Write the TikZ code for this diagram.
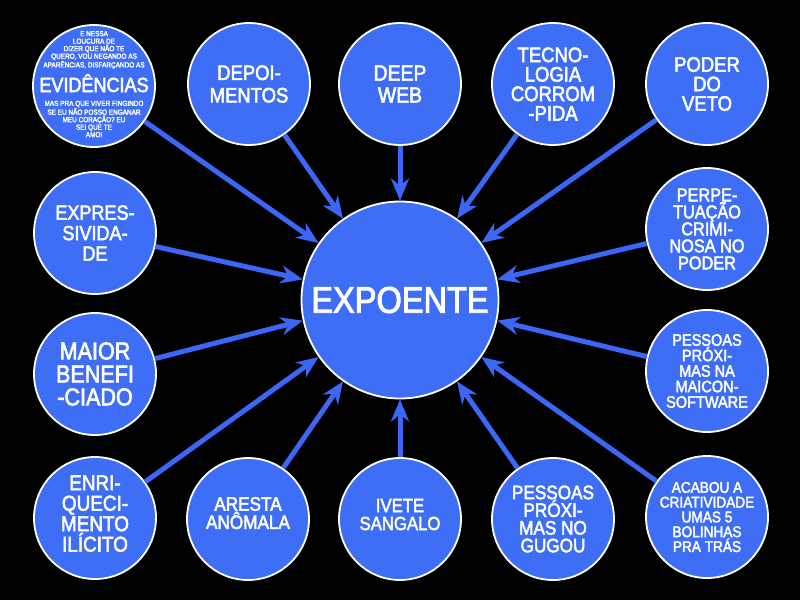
\documentclass[tikz,border=0pt]{standalone}
\usepackage{fontspec}
\setmainfont{Liberation Sans}[FakeStretch=0.88,FakeBold=2.5]
\usetikzlibrary{arrows.meta}
\definecolor{bub}{RGB}{62,110,245}
\definecolor{arr}{RGB}{60,102,245}
\newcommand{\fsz}[2]{\fontsize{#1}{#2}\selectfont}
\begin{document}
\begin{tikzpicture}[x=1pt,y=-1pt,
  bubble/.style={circle, fill=bub, draw=white, line width=1.8pt, minimum size=122pt, inner sep=0pt, text=white, align=center},
  hub/.style={bubble, minimum size=197pt},
  words/.style={text=white, align=center, inner sep=0pt},
  link/.style={draw=arr, line width=5pt, -{Stealth[length=22pt,width=18pt,inset=7pt]}}]
\fill[black] (0,0) rectangle (800,600);
\useasboundingbox (0,0) rectangle (800,600);

\node[hub, font=\fsz{37}{37}] (hub) at (400,300) {EXPOENTE};

\node[bubble] (evid) at (94,86) {};
\node[words, font=\fsz{7.3}{7.5}] (evida) at (94,50) {E NESSA\\LOUCURA DE\\DIZER QUE NÃO TE\\QUERO, VOU NEGANDO AS\\APARÊNCIAS, DISFARÇANDO AS};
\node[words, font=\fsz{20.5}{20}, anchor=base] (evidb) at (94,92) {EVIDÊNCIAS};
\node[words, font=\fsz{7.3}{7.5}] (evidc) at (94,119) {MAS PRA QUE VIVER FINGINDO\\SE EU NÃO POSSO ENGANAR\\MEU CORAÇÃO? EU\\SEI QUE TE\\AMO!};

\node[bubble, font=\fsz{21}{22.5}] (depo) at (249,84) {DEPOI-\\MENTOS};
\node[bubble, font=\fsz{22}{22}] (deep) at (400,84) {DEEP\\WEB};
\node[bubble, font=\fsz{21}{19.5}] (tecno) at (553,84) {TECNO-\\LOGIA\\CORROM\\-PIDA};
\node[bubble, font=\fsz{21}{19.5}] (veto) at (707,84) {PODER\\DO\\VETO};

\node[bubble, font=\fsz{20.5}{20.5}] (expr) at (95,233) {EXPRES-\\SIVIDA-\\DE};
\node[bubble, font=\fsz{18.5}{17}] (perp) at (707,229) {PERPE-\\TUAÇÃO\\CRIMI-\\NOSA NO\\PODER};

\node[bubble, font=\fsz{24.5}{23}] (maior) at (95,374) {MAIOR\\BENEFI\\-CIADO};
\node[bubble, font=\fsz{16.5}{15.5}] (maicon) at (707,371) {PESSOAS\\PRÓXI-\\MAS NA\\MAICON-\\SOFTWARE};

\node[bubble, font=\fsz{21.5}{20.5}, text depth=9pt] (enri) at (95,518) {ENRI-\\QUECI-\\MENTO\\ILÍCITO};
\node[bubble, font=\fsz{19.5}{17}, text depth=12pt] (aresta) at (248,519) {ARESTA\\ANÔMALA};
\node[bubble, font=\fsz{19}{18}, text depth=9pt] (ivete) at (400,519) {IVETE\\SANGALO};
\node[bubble, font=\fsz{19.5}{17.7}] (gugou) at (553,519) {PESSOAS\\PRÓXI-\\MAS NO\\GUGOU};
\node[bubble, font=\fsz{15.5}{14.8}] (acabou) at (707,517) {ACABOU A\\CRIATIVIDADE\\UMAS 5\\BOLINHAS\\PRA TRÁS};

\draw[link] (evid) -- (hub.145);
\draw[link] (depo) -- (hub.125);
\draw[link] (deep) -- (hub.90);
\draw[link] (tecno) -- (hub.55);
\draw[link] (veto) -- (hub.35);
\draw[link] (expr) -- (hub.168);
\draw[link] (perp) -- (hub.12);
\draw[link] (maior) -- (hub.192);
\draw[link] (maicon) -- (hub.348);
\draw[link] (enri) -- (hub.215);
\draw[link] (aresta) -- (hub.235);
\draw[link] (ivete) -- (hub.270);
\draw[link] (gugou) -- (hub.305);
\draw[link] (acabou) -- (hub.325);
\end{tikzpicture}
\end{document}
